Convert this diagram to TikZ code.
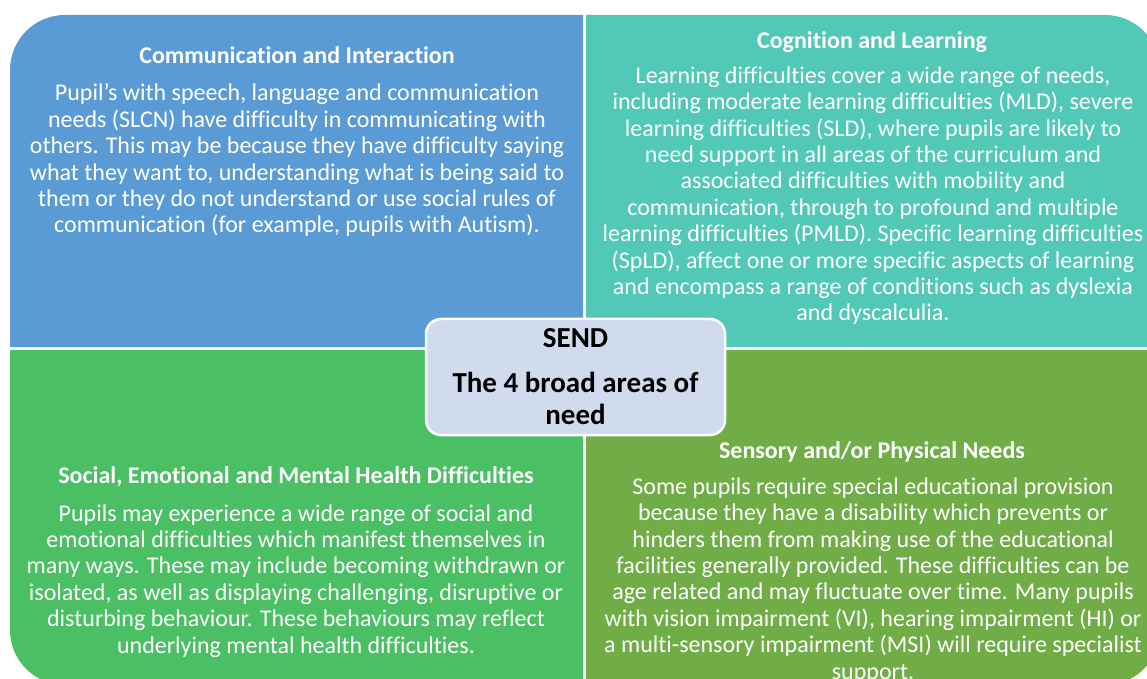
\documentclass[tikz,border=0pt]{standalone}
\usepackage{fontspec}
\setmainfont{Carlito}[Ligatures={NoCommon}]
\definecolor{commblue}{RGB}{91,155,213}
\definecolor{cogteal}{RGB}{82,201,183}
\definecolor{semhgreen}{RGB}{74,191,99}
\definecolor{sensolive}{RGB}{112,173,71}
\definecolor{sendfill}{RGB}{208,220,238}

\begin{document}
\begin{tikzpicture}[x=1pt, y=1pt,
		areatitle/.style={anchor=base, align=center, text=white, inner sep=0, font=\fontsize{24}{26.4}\selectfont\bfseries},
		areatext/.style={anchor=base, align=center, text=white, inner sep=0, font=\fontsize{24}{26.4}\selectfont},
		sendbox/.style={draw=white, line width=2.5pt, fill=sendfill, rounded corners=15, minimum width=299, minimum height=116, inner sep=0, align=center, font=\fontsize{29}{32}\selectfont\bfseries}]
		\useasboundingbox (0, 0) rectangle (1147, 678);
		\begin{scope}
			\clip (0, 0) rectangle (1147, 678);
			\fill[commblue] (583, 331) -- (10, 331) -- (10, 608) arc[start angle=180, end angle=90, radius=55] -- (583, 663) -- cycle;
			\fill[cogteal] (586, 331) -- (586, 663) -- (1105, 663) arc[start angle=90, end angle=0, radius=55] -- (1160, 331) -- cycle;
			\fill[semhgreen] (583, 328) -- (10, 328) -- (10, 48) arc[start angle=180, end angle=270, radius=55] -- (583, -7) -- cycle;
			\fill[sensolive] (586, 328) -- (1160, 328) -- (1160, 48) arc[start angle=0, end angle=-90, radius=55] -- (586, -7) -- cycle;
		\end{scope}

		% base anchor sits on the last line
		\node[areatitle] (commtitle) at (297, 614) {Communication and Interaction};
		\node[areatext] (commtext) at (297, 445) {Pupil’s with speech, language and communication\\needs (SLCN) have difficulty in communicating with\\others. This may be because they have difficulty saying\\what they want to, understanding what is being said to\\them or they do not understand or use social rules of\\communication (for example, pupils with Autism).};

		\node[areatitle] (cogtitle) at (872, 629) {Cognition and Learning};
		\node[areatext] (cogtext) at (873, 357) {Learning difficulties cover a wide range of needs,\\including moderate learning difficulties (MLD), severe\\learning difficulties (SLD), where pupils are likely to\\need support in all areas of the curriculum and\\associated difficulties with mobility and\\communication, through to profound and multiple\\learning difficulties (PMLD). Specific learning difficulties\\(SpLD), affect one or more specific aspects of learning\\and encompass a range of conditions such as dyslexia\\and dyscalculia.};

		\node[areatitle] (semhtitle) at (296, 195) {Social, Emotional and Mental Health Difficulties};
		\node[areatext] (semhtext) at (296, 25) {Pupils may experience a wide range of social and\\emotional difficulties which manifest themselves in\\many ways. These may include becoming withdrawn or\\isolated, as well as displaying challenging, disruptive or\\disturbing behaviour. These behaviours may reflect\\underlying mental health difficulties.};

		\node[areatitle] (senstitle) at (872, 220) {Sensory and/or Physical Needs};
		\node[areatext] (senstext) at (873, -1) {Some pupils require special educational provision\\because they have a disability which prevents or\\hinders them from making use of the educational\\facilities generally provided. These difficulties can be\\age related and may fluctuate over time. Many pupils\\with vision impairment (VI), hearing impairment (HI) or\\a multi-sensory impairment (MSI) will require specialist\\support.};

		\node[sendbox] (send) at (575.5, 301) {SEND\\[13pt]The 4 broad areas of\\need};
\end{tikzpicture}
\end{document}
